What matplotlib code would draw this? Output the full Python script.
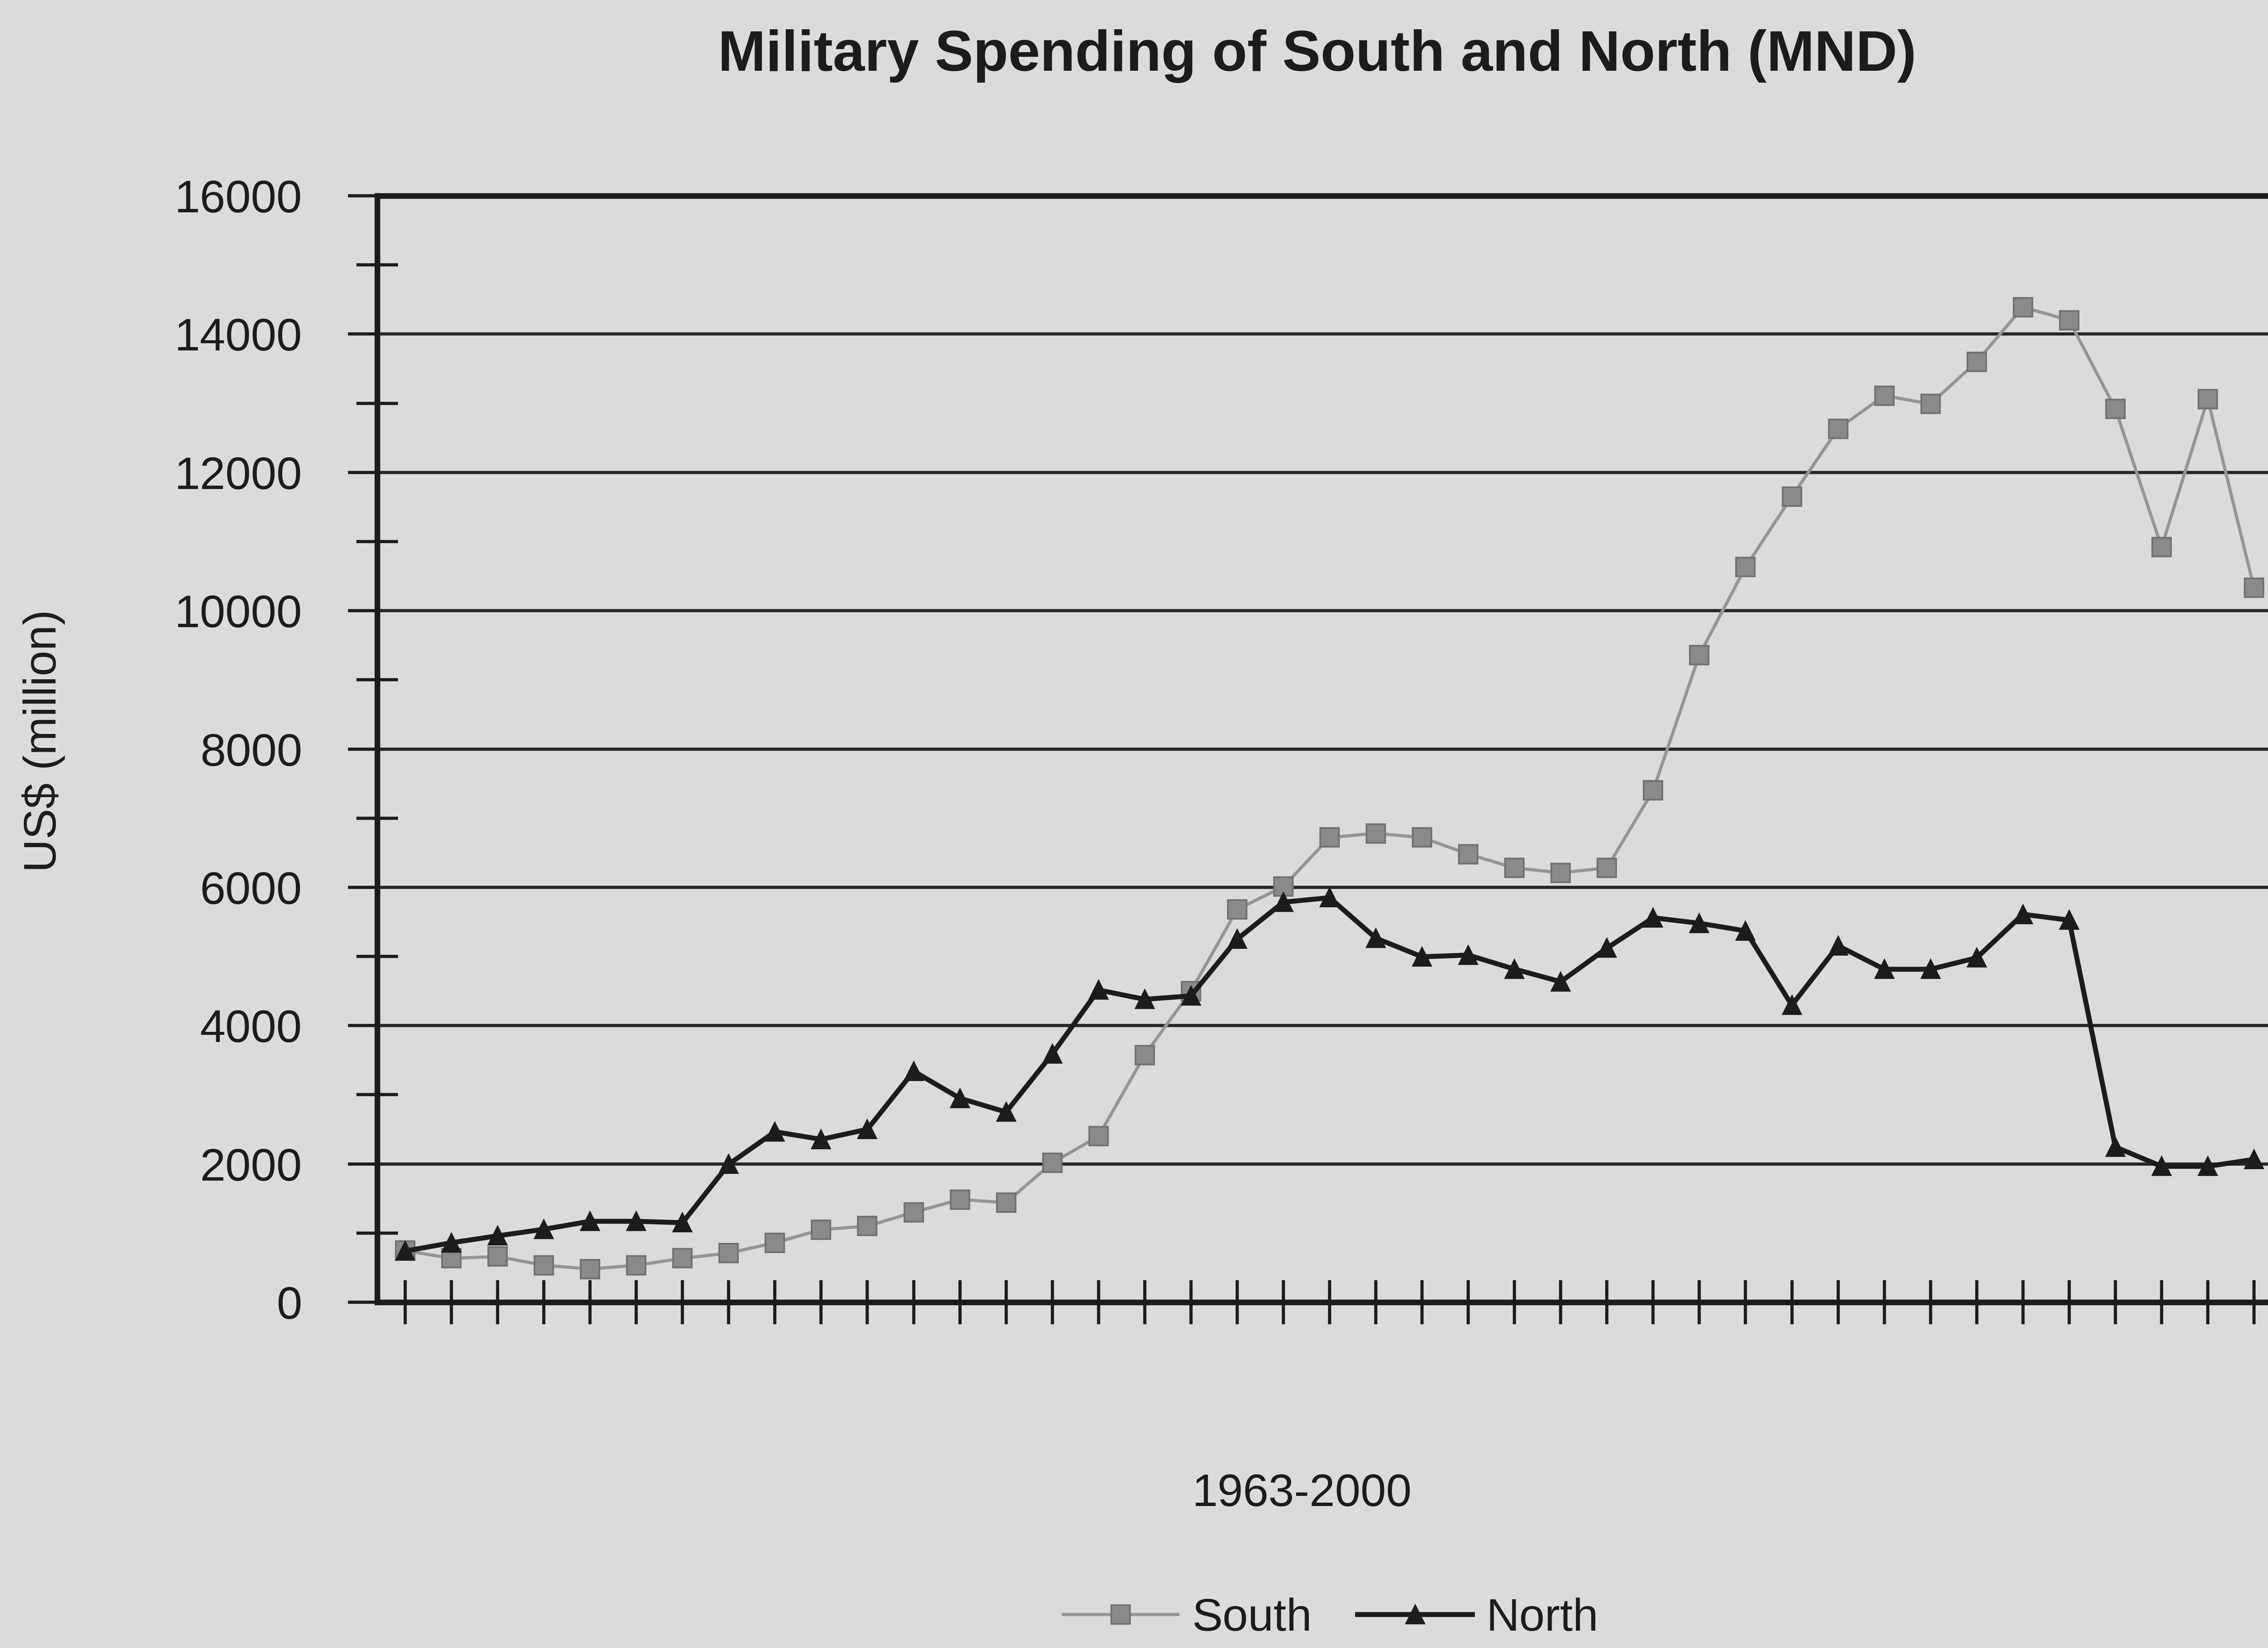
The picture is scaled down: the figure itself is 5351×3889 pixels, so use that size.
import numpy as np
import matplotlib
matplotlib.use("Agg")
import matplotlib.pyplot as plt
from matplotlib.ticker import MultipleLocator, NullFormatter

# ---- data ----
south = [745, 635, 660, 535, 480, 535, 635, 710, 860, 1050, 1100, 1300, 1485, 1440,
         2015, 2400, 3575, 4500, 5680, 6010, 6720, 6780, 6720, 6480, 6280, 6210, 6280,
         7400, 9360, 10630, 11650, 12630, 13110, 12990, 13600, 14390, 14200, 12920,
         10920, 13060, 10330]
north = [740, 860, 960, 1055, 1170, 1170, 1150, 1995, 2465, 2355, 2500, 3340, 2950,
         2750, 3590, 4515, 4380, 4430, 5250, 5785, 5850, 5265, 4995, 5020, 4817, 4635,
         5120, 5560, 5480, 5370, 4295, 5155, 4815, 4815, 4980, 5610, 5525, 2245, 1965,
         1965, 2065]
series_names = ["South", "North"]
y_ticks = [0, 2000, 4000, 6000, 8000, 10000, 12000, 14000, 16000]
title = "Military Spending of South and North (MND)"
x_label = "1963-2000"
y_label = "US$ (million)"

W, H = 5351, 3889
DPI = 300
BG = "#dbdbdb"
INK = "#1c1c1c"
plt.rcParams['font.family'] = ['Liberation Sans', 'DejaVu Sans']

fig = plt.figure(figsize=(W / DPI, H / DPI), dpi=DPI, facecolor=BG)

left_px, right_px, top_px, bot_px = 890, 5600, 462, 3073
ax = fig.add_axes([left_px / W, (H - bot_px) / H,
                   (right_px - left_px) / W, (bot_px - top_px) / H])
ax.set_facecolor(BG)

x = np.arange(len(south))
step_px = (5318 - 956) / (len(south) - 1)
ax.set_xlim(-(956 - left_px) / step_px, (len(south) - 1) + (right_px - 5318) / step_px)
ax.set_ylim(y_ticks[0], y_ticks[-1])

# grid lines
for v in y_ticks[1:-1]:
    ax.axhline(v, color="#262626", lw=1.8, zorder=1)

# series
ax.plot(x, south, color="#959595", lw=1.8, marker="s", ms=10.5,
        mfc="#8a8a8a", mec="#727272", mew=1.0, zorder=3, label=series_names[0])
ax.plot(x, north, color=INK, lw=2.8, marker="^", ms=10,
        mfc=INK, mec=INK, zorder=4, label=series_names[1])

# spines
for s in ["left", "bottom", "top"]:
    ax.spines[s].set_color(INK)
    ax.spines[s].set_linewidth(3.2)
ax.spines["right"].set_visible(False)

# y ticks
ax.set_yticks(y_ticks)
ax.set_yticklabels([str(v) for v in y_ticks])
ax.yaxis.set_minor_locator(MultipleLocator(1000))
ax.yaxis.set_minor_formatter(NullFormatter())
ax.tick_params(axis="y", which="major", direction="out", length=16.5, width=1.8,
               color=INK, pad=26, labelsize=26, labelcolor=INK, right=False)
ax.tick_params(axis="y", which="minor", direction="inout", length=23.5, width=1.8,
               color=INK, right=False)

# x ticks
ax.set_xticks(x)
ax.set_xticklabels([])
ax.tick_params(axis="x", which="major", direction="inout", length=25, width=1.8,
               color=INK, top=False)

# texts
fig.text(3108 / W, (H - 167) / H, title, ha="center", va="baseline",
         fontsize=32.5, fontweight="bold", color=INK)
fig.text(3072 / W, (H - 3526) / H, x_label, ha="center", va="center",
         fontsize=26, color=INK)
fig.text(103 / W, (H - 1748) / H, y_label, ha="center", va="center",
         rotation=90, fontsize=26, color=INK)

leg = fig.legend(loc="center", bbox_to_anchor=(3140 / W, (H - 3820) / H), ncol=2,
                 frameon=False, fontsize=26, handlelength=2.5, handletextpad=0.3,
                 columnspacing=1.0, borderpad=0, borderaxespad=0)
for t in leg.get_texts():
    t.set_color(INK)

fig.savefig("out.png", dpi=DPI, facecolor=BG)
